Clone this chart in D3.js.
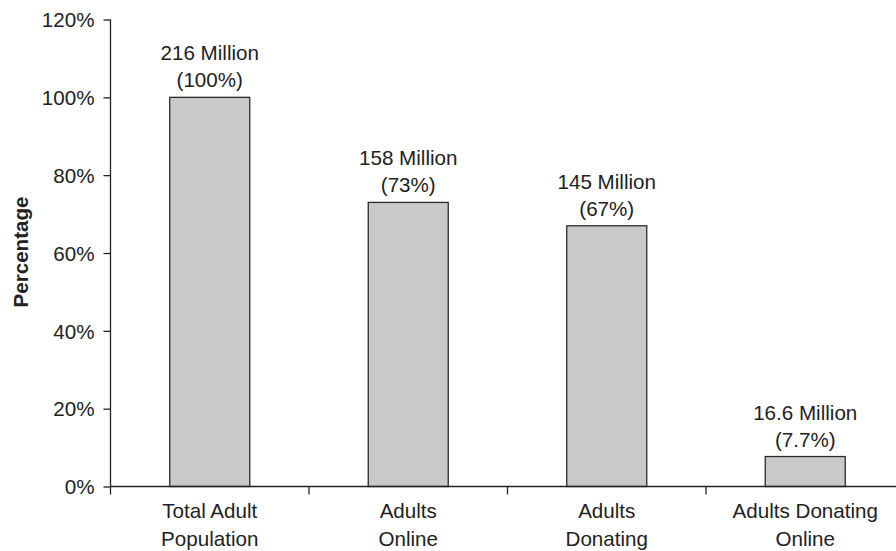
<!DOCTYPE html>
<html>
<head>
<meta charset="utf-8">
<script src="https://cdn.jsdelivr.net/npm/d3@7"></script>
<style>
  body { margin: 0; background: #fff; }
  svg { display: block; }
  text { font-family: Arial, "Liberation Sans", Helvetica, sans-serif; fill: #222; }
</style>
</head>
<body>
<svg width="896" height="551"></svg>
<script>
// chart data
var categories = [["Total Adult", "Population"], ["Adults", "Online"], ["Adults", "Donating"], ["Adults Donating", "Online"]];
var percents = [100, 73, 67, 7.7];
var millions = ["216", "158", "145", "16.6"];
var pctLabels = ["100%", "73%", "67%", "7.7%"];
var yTicks = [0, 20, 40, 60, 80, 100, 120];

var svg = d3.select("svg"),
    plotLeft = 110.5,
    plotRight = 904.5,
    plotTop = 19.5,
    plotBottom = 486.5,
    fs = "20.6px";

var x = d3.scaleBand()
    .domain(d3.range(categories.length))
    .range([plotLeft, plotRight])
    .paddingInner(0)
    .paddingOuter(0);

var y = d3.scaleLinear()
    .domain([0, 120])
    .range([plotBottom, plotTop]);

var barW = 80;

// bars
svg.append("g").selectAll("rect")
    .data(percents)
    .enter().append("rect")
    .attr("x", function(d, i) {
        return x(i) + x.bandwidth() / 2 - barW / 2;
    })
    .attr("y", function(d) {
        return y(d);
    })
    .attr("width", barW)
    .attr("height", function(d) {
        return y(0) - y(d);
    })
    .attr("fill", "#c8c9cb")
    .attr("stroke", "#2b2b2b")
    .attr("stroke-width", 1.3);

// value labels above bars
var lab = svg.append("g").selectAll("text")
    .data(percents)
    .enter().append("text")
    .attr("text-anchor", "middle")
    .style("font-size", fs)
    .attr("x", function(d, i) {
        return x(i) + x.bandwidth() / 2;
    })
    .attr("y", function(d) {
        return y(d) - 37;
    });
lab.append("tspan")
    .text(function(d, i) {
        return millions[i] + " Million";
    });
lab.append("tspan")
    .attr("x", function(d, i) {
        return x(i) + x.bandwidth() / 2;
    })
    .attr("dy", 27)
    .text(function(d, i) {
        return "(" + pctLabels[i] + ")";
    });

// y axis
var yAxis = svg.append("g")
    .attr("transform", "translate(" + plotLeft + ",0)")
    .call(d3.axisLeft(y)
        .tickValues(yTicks)
        .tickSize(7)
        .tickPadding(9)
        .tickFormat(function(d) {
            return d + "%";
        }));
yAxis.select(".domain").attr("stroke", "#222").attr("stroke-width", 1.3).attr("d", "M0," + plotTop + "V" + plotBottom);
yAxis.selectAll(".tick line").attr("stroke", "#222").attr("stroke-width", 1.3);
yAxis.selectAll(".tick text").style("font-size", fs).style("font-family", "Arial, 'Liberation Sans', sans-serif").attr("fill", "#222").attr("dy", "0.35em");

// x axis: ticks at category boundaries
var xAxis = svg.append("g")
    .attr("transform", "translate(0," + plotBottom + ")");
xAxis.append("line")
    .attr("x1", plotLeft)
    .attr("x2", 896)
    .attr("stroke", "#222")
    .attr("stroke-width", 1.3);
xAxis.selectAll(".bound")
    .data(d3.range(categories.length))
    .enter().append("line")
    .attr("class", "bound")
    .attr("x1", function(d) { return x(d); })
    .attr("x2", function(d) { return x(d); })
    .attr("y1", 0)
    .attr("y2", 8)
    .attr("stroke", "#222")
    .attr("stroke-width", 1.3);

var cat = xAxis.selectAll(".cat")
    .data(categories)
    .enter().append("text")
    .attr("class", "cat")
    .attr("text-anchor", "middle")
    .style("font-size", fs)
    .attr("y", 31);
cat.selectAll("tspan")
    .data(function(d, i) {
        return d.map(function(s) { return {s: s, i: i}; });
    })
    .enter().append("tspan")
    .attr("x", function(d) {
        return x(d.i) + x.bandwidth() / 2;
    })
    .attr("dy", function(d, j) {
        return j === 0 ? 0 : 28;
    })
    .text(function(d) { return d.s; });

// y axis title
svg.append("text")
    .attr("transform", "translate(27.5,252) rotate(-90)")
    .attr("text-anchor", "middle")
    .style("font-size", fs)
    .style("font-weight", "bold")
    .text("Percentage");
</script>
</body>
</html>
